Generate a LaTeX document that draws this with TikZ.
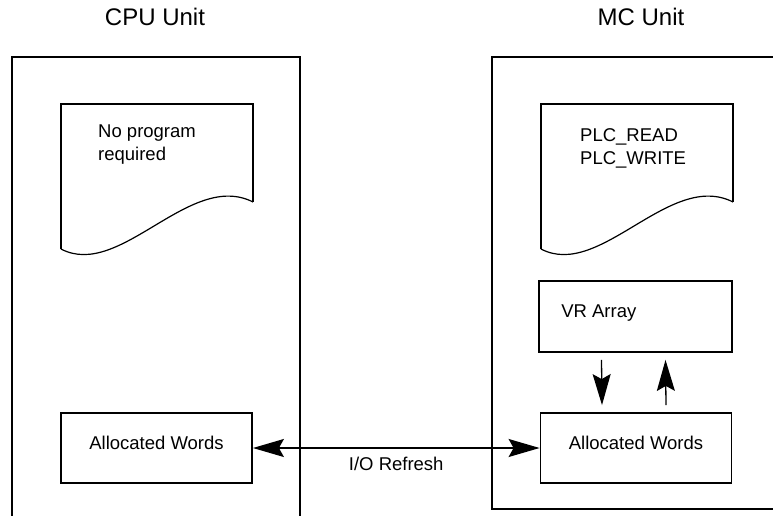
\documentclass[tikz,border=0pt]{standalone}
\usepackage{fontspec}
\setmainfont{Liberation Sans}
\usetikzlibrary{arrows.meta,positioning}

\tikzset{
  frame/.style={line width=2pt},
  sheet/.style={line width=1.8pt},
  wordbox/.style={draw, line width=1.8pt, minimum width=191pt, minimum height=70pt,
    inner sep=0pt, text depth=10pt, font=\fontsize{18.5}{22}\selectfont},
  bigtip/.tip={Stealth[length=31pt,width=18pt,inset=5pt]},
}

\begin{document}
\begin{tikzpicture}[x=1pt,y=-1pt]
\useasboundingbox (0,0) rectangle (773,516);
% headings
\node[font=\fontsize{24}{28}\selectfont, anchor=base] (cpulabel) at (155,26) {CPU Unit};
\node[font=\fontsize{24}{28}\selectfont, anchor=base] (mclabel) at (641,26) {MC Unit};
% unit frames
\draw[frame] (12,516) -- (12,57) -- (300,57) -- (300,516);
\draw[frame] (773,57) -- (492,57) -- (492,509) -- (773,509);
% program sheets
\foreach \dx in {0,480}{
  \draw[sheet] (61+\dx,249) -- (61+\dx,104) -- (253+\dx,104) -- (253+\dx,202);
  \draw[line width=1.2pt] (253+\dx,202) .. controls (190+\dx,170) and (120+\dx,280) .. (61+\dx,249);
}
\node[anchor=base west, align=left, inner sep=0pt, font=\fontsize{18.5}{22}\selectfont] (cputext) at (98,160) {No program\\required};
\node[anchor=base west, align=left, inner sep=0pt, font=\fontsize{18.5}{22.5}\selectfont] (mctext) at (580,164) {PLC\_READ\\PLC\_WRITE};
% boxes
\node[wordbox] (cpuwords) at (156.5,448) {Allocated Words};
\node[wordbox] (mcwords) at (636,448) {Allocated Words};
\node[draw, line width=1.8pt, minimum width=193pt, minimum height=71pt] (vrarray) at (635.5,316.5) {};
\node[anchor=base west, inner sep=0pt, font=\fontsize{18.5}{22}\selectfont] (vrtext) at ([xshift=23pt,yshift=-37pt]vrarray.north west) {VR Array};
% connectors
\draw[line width=1.5pt, {bigtip}-{bigtip}] (cpuwords) -- (mcwords)
  node[midway, below=5pt, font=\fontsize{18.5}{22}\selectfont] (refresh) {I/O Refresh};
\draw[line width=1.3pt, -{bigtip}] ([xshift=-34pt,yshift=-7pt]vrarray.south) -- ([xshift=-34pt,yshift=7pt]mcwords.north);
\draw[line width=1.3pt, -{bigtip}] ([xshift=30pt,yshift=7pt]mcwords.north) -- ([xshift=30pt,yshift=-7pt]vrarray.south);
\end{tikzpicture}
\end{document}
